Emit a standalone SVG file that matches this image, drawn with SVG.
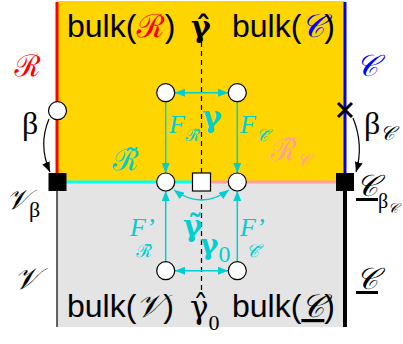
<svg xmlns="http://www.w3.org/2000/svg" width="403" height="344" viewBox="0 0 403 344">
<style>
.bulk{font-family:"Liberation Sans",Arial,sans-serif;font-size:32px;fill:#000}
.scr{font-family:"DejaVu Serif","Noto Sans","Liberation Serif",serif;font-style:italic}
.gr{font-family:"Liberation Serif",serif}
.gd{font-family:"DejaVu Serif",serif}
.cy{fill:#00CED1}
.node{fill:#fff;stroke:#000;stroke-width:1.2}
.arr{stroke:#00CED1;stroke-width:1.5;fill:none}
</style>
<defs>
<marker id="ah" viewBox="0 0 10 8" refX="10" refY="4" markerWidth="10" markerHeight="8" markerUnits="userSpaceOnUse" orient="auto-start-reverse"><path d="M0,0 L10,4 L0,8 Z" fill="#00CED1"/></marker>
<marker id="bh" viewBox="0 0 10 8" refX="10" refY="4" markerWidth="10" markerHeight="8" markerUnits="userSpaceOnUse" orient="auto"><path d="M0,0 L10,4 L0,8 Z" fill="#000"/></marker>
</defs>
<g id="regions">
<rect x="57" y="1" width="288" height="181" fill="#FFD500"/>
<rect x="57" y="182" width="288" height="145" fill="#E4E4E4"/>
</g>
<g id="walls">
<line x1="57" y1="2" x2="57" y2="173" stroke="#FF0000" stroke-width="3"/>
<line x1="345" y1="2" x2="345" y2="173" stroke="#0000FF" stroke-width="3"/>
<line x1="57" y1="191" x2="57" y2="327" stroke="#000" stroke-width="1.2"/>
<line x1="345" y1="191" x2="345" y2="327" stroke="#000" stroke-width="4"/>
<line x1="66" y1="182" x2="192" y2="182" stroke="#00FFFF" stroke-width="3"/>
<line x1="210" y1="182" x2="336" y2="182" stroke="#FFA0A0" stroke-width="3"/>
<line x1="201.5" y1="42" x2="201.5" y2="292" stroke="#000" stroke-width="1.2" stroke-dasharray="5,4"/>
</g>
<g id="connectors">
<line class="arr" x1="175" y1="92.7" x2="228" y2="92.7" marker-start="url(#ah)" marker-end="url(#ah)"/>
<line class="arr" x1="165.7" y1="101.7" x2="165.7" y2="173" marker-end="url(#ah)"/>
<line class="arr" x1="237.3" y1="101.7" x2="237.3" y2="173" marker-end="url(#ah)"/>
<line class="arr" x1="165.7" y1="261.7" x2="165.7" y2="191" marker-end="url(#ah)"/>
<line class="arr" x1="237.3" y1="261.7" x2="237.3" y2="191" marker-end="url(#ah)"/>
<line class="arr" x1="175" y1="270.7" x2="228" y2="270.7" marker-start="url(#ah)" marker-end="url(#ah)"/>
<path class="arr" d="M174,190 Q201.5,210 229,190" marker-start="url(#ah)" marker-end="url(#ah)"/>
<path d="M49,119 Q38,145 50,172" fill="none" stroke="#000" stroke-width="1.2" marker-end="url(#bh)"/>
<path d="M353,118 Q364,145 356,172" fill="none" stroke="#000" stroke-width="1.2" marker-end="url(#bh)"/>
</g>
<g id="n_tl"><circle class="node" cx="165.7" cy="92.7" r="9"/></g>
<g id="n_tr"><circle class="node" cx="237.3" cy="92.7" r="9"/></g>
<g id="n_ml"><circle class="node" cx="165.7" cy="182" r="9"/></g>
<g id="n_mr"><circle class="node" cx="237.3" cy="182" r="9"/></g>
<g id="n_bl"><circle class="node" cx="165.7" cy="270.7" r="9"/></g>
<g id="n_br"><circle class="node" cx="237.3" cy="270.7" r="9"/></g>
<g id="n_c"><rect x="192.5" y="173" width="18" height="18" fill="#fff" stroke="#000" stroke-width="1.2"/></g>
<g id="n_r"><circle class="node" cx="57.5" cy="110.7" r="9"/></g>
<g id="n_x"><path d="M338,103 L352,117 M352,103 L338,117" stroke="#000" stroke-width="3"/></g>
<g id="n_vb"><rect x="48.5" y="173" width="18" height="18" fill="#000"/></g>
<g id="n_cb"><rect x="336" y="173" width="18" height="18" fill="#000"/></g>
<g id="labels">
<text class="bulk" x="67" y="37">bulk(<tspan class="scr" fill="#FF0000">ℛ</tspan>)</text>
<text class="bulk" x="232" y="37">bulk(<tspan class="scr" fill="#0000FF">𝒞</tspan>)</text>
<text class="bulk" x="67" y="317">bulk(<tspan class="scr">𝒱</tspan>)</text>
<text class="bulk" x="232" y="317">bulk(<tspan class="scr" text-decoration="underline">𝒞</tspan>)</text>
<text class="scr" x="14" y="76" font-size="30" fill="#FF0000">ℛ</text>
<text class="scr" x="356" y="76" font-size="30" fill="#0000FF">𝒞</text>
<text class="gr" x="22" y="134" font-size="32">β</text>
<text class="gr" x="364" y="134" font-size="32">β<tspan class="scr" font-size="20" dy="6">𝒞</tspan></text>
<text class="scr" x="6" y="209" font-size="28">𝒱<tspan class="gr" font-style="normal" font-size="22" dy="8">β</tspan></text>
<text class="scr" x="356" y="196" font-size="30"><tspan text-decoration="underline">𝒞</tspan><tspan class="gr" font-style="normal" font-size="20" dy="12">β</tspan><tspan font-size="14" dy="5">𝒞</tspan></text>
<text class="scr" x="14" y="289" font-size="30">𝒱</text>
<text class="scr" x="356" y="289" font-size="30" text-decoration="underline">𝒞</text>
<text class="gd" x="191" y="37" font-size="30" font-weight="bold">γ̂</text>
<text class="gd" x="190" y="318" font-size="31">γ̂<tspan class="gr" font-size="22" dy="12">0</tspan></text>
<text class="gd cy" x="202" y="127" font-size="30" font-weight="bold">γ</text>
<text class="gd cy" x="183" y="236" font-size="30" font-weight="bold">γ̃</text>
<text class="gd cy" x="200" y="254" font-size="28" font-weight="bold">γ<tspan class="gr" font-weight="normal" font-size="24" dy="8">0</tspan></text>
<text class="scr cy" x="112" y="170" font-size="30">ℛ̃</text>
<text class="scr" x="270" y="160" font-size="30" fill="#FFA0A0">ℛ̃<tspan font-size="18" dy="6">𝒞</tspan></text>
<text class="gr cy" x="169" y="133" font-size="26" font-style="italic">F<tspan class="scr" font-size="17" dy="8">ℛ̃</tspan></text>
<text class="gr cy" x="240" y="133" font-size="26" font-style="italic">F<tspan class="scr" font-size="17" dy="8">𝒞̃</tspan></text>
<text class="gr cy" x="130" y="236" font-size="26" font-style="italic">F’</text>
<text class="scr cy" x="136" y="257" font-size="18">ℛ̃</text>
<text class="gr cy" x="240" y="236" font-size="26" font-style="italic">F’</text>
<text class="scr cy" x="246" y="257" font-size="18">𝒞̃</text>
</g>
</svg>
